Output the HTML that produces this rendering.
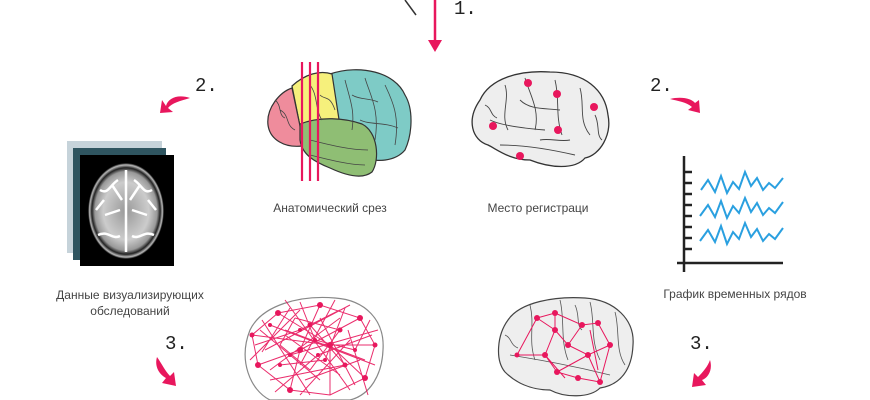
<!DOCTYPE html>
<html><head><meta charset="utf-8"><style>
html,body{margin:0;padding:0;background:#fff;width:870px;height:400px;overflow:hidden}
svg{display:block}
text{font-family:"Liberation Sans","Noto Sans CJK SC",sans-serif;fill:#444}
.m{font-family:"Liberation Mono",monospace;font-size:19px;fill:#222}
</style></head><body>
<svg width="870" height="400" viewBox="0 0 870 400" xmlns="http://www.w3.org/2000/svg">
<defs>
<radialGradient id="mri" cx="50%" cy="50%" r="50%">
<stop offset="0" stop-color="#999"/><stop offset="0.6" stop-color="#ccc"/><stop offset="0.82" stop-color="#999"/><stop offset="0.9" stop-color="#222"/><stop offset="0.96" stop-color="#bbb"/><stop offset="1" stop-color="#000"/>
</radialGradient>
</defs>
<line x1="405" y1="0" x2="416" y2="15" stroke="#333" stroke-width="1.5"/>
<text x="454" y="14" class="m">1.</text>
<line x1="435" y1="0" x2="435" y2="42" stroke="#e8175d" stroke-width="2.5"/>
<polygon points="428,40 442,40 435,52" fill="#e8175d"/>

<text x="195" y="91" class="m">2.</text>
<path d="M190,98 C178,94 168,98 166,106 L162,100 L160,113 L173,112 L168,108 C172,103 180,101 190,98Z" fill="#e8175d"/>
<rect x="67" y="141" width="95" height="112" fill="#c6d3da"/>
<rect x="73" y="148" width="93" height="112" fill="#2f5560"/>
<rect x="80" y="155" width="94" height="111" fill="#000"/>
<ellipse cx="126" cy="211" rx="38" ry="48" fill="url(#mri)"/>
<g stroke="#fff" stroke-width="2.5" fill="none">
<path d="M126,170 L126,252 M112,185 L122,200 M140,185 L130,200 M105,215 L120,210 M147,215 L132,210 M100,190 C108,195 110,185 118,180 M152,190 C144,195 142,185 134,180 M98,235 C108,230 112,240 120,236 M154,235 C144,230 140,240 132,236 M104,200 L96,210 M148,200 L156,210"/>
</g>
<text x="130" y="299" font-size="12" text-anchor="middle">Данные визуализирующих</text>
<text x="130" y="315" font-size="12" text-anchor="middle">обследований</text>
<text x="165" y="349" class="m">3.</text>
<path d="M157,357 C154,367 160,375 166,378 L162,383 L176,386 L174,372 L170,376 C165,371 162,364 157,357Z" fill="#e8175d"/>

<g stroke="#333" stroke-width="1.2">
<path d="M330,74 C360,64 395,72 405,95 C414,110 412,135 405,150 C395,162 375,162 368,158 L340,130 Z" fill="#7ecbc6"/>
<path d="M292,86 C305,74 320,70 332,74 L340,126 L300,126 Z" fill="#f6f07c"/>
<path d="M292,88 L300,126 L302,146 C285,148 270,140 268,125 C266,108 280,92 292,88Z" fill="#ef8c9c"/>
<path d="M300,124 C320,116 345,118 362,124 C378,132 380,160 372,172 C362,180 345,175 330,168 C315,162 302,155 300,140Z" fill="#8fbe74"/>
</g>
<g stroke="#444" stroke-width="0.8" fill="none">
<path d="M345,80 C350,100 355,110 352,130 M365,78 C370,95 380,110 375,140 M385,85 C392,100 400,115 395,145 M352,95 C360,100 370,98 378,102 M360,120 C370,125 385,122 398,128 M310,85 C318,95 315,110 322,120 M280,110 C290,115 285,125 295,130 M275,100 C282,105 278,115 285,118 M310,140 C330,145 350,150 368,150 M310,155 C330,160 350,165 365,165 M320,95 C325,100 330,95 335,110"/>
</g>
<g stroke="#e8175d" stroke-width="2.2"><line x1="302" y1="62" x2="302" y2="181"/><line x1="310" y1="62" x2="310" y2="181"/><line x1="318" y1="62" x2="318" y2="181"/></g>
<text x="330" y="212" font-size="12" text-anchor="middle">Анатомический срез</text>

<path d="M480,100 C490,78 520,70 550,72 C585,72 605,90 608,115 C612,135 600,155 585,158 C575,170 550,168 530,160 C510,160 498,150 488,145 C472,140 466,120 480,100Z" fill="#eee" stroke="#333" stroke-width="1.3"/>
<g stroke="#444" stroke-width="0.9" fill="none">
<path d="M505,85 C510,100 500,115 508,130 M525,78 C530,95 540,110 535,130 M555,80 C560,100 555,115 562,135 M580,88 C585,105 578,120 590,135 M490,120 C500,125 520,128 545,130 M500,145 C520,145 545,148 575,155 M520,100 C530,110 545,108 560,110 M485,105 C492,108 490,115 497,118 M595,115 C600,125 596,135 602,140 M540,140 C550,138 560,142 570,140"/>
</g>
<g fill="#e8175d"><circle cx="528" cy="83" r="4"/><circle cx="557" cy="94" r="4"/><circle cx="594" cy="107" r="4"/><circle cx="493" cy="126" r="4"/><circle cx="558" cy="130" r="4"/><circle cx="520" cy="156" r="4"/></g>
<text x="538" y="212" font-size="12" text-anchor="middle">Место регистраци</text>

<text x="650" y="91" class="m">2.</text>
<path d="M670,99 C682,96 692,99 695,103 L699,100 L700,113 L688,110 L692,107 C686,102 678,101 670,99Z" fill="#e8175d"/>
<g stroke="#222" stroke-width="2.5" fill="none">
<line x1="684" y1="156" x2="684" y2="272"/><line x1="677" y1="263" x2="783" y2="263"/>
<path d="M684,172h8M684,183h8M684,194h8M684,205h8M684,216h8M684,227h8M684,238h8M684,249h8"/>
</g>
<g stroke="#2aa0e0" stroke-width="2" fill="none">
<path d="M701,190 L708,180 L715,192 L721,176 L727,193 L733,182 L739,189 L745,172 L751,186 L757,178 L763,190 L769,183 L775,188 L783,178"/>
<path d="M700,216 L708,205 L715,217 L721,201 L727,218 L733,206 L739,213 L745,198 L751,212 L757,203 L763,215 L769,208 L775,213 L783,202"/>
<path d="M700,241 L708,230 L715,242 L721,226 L727,244 L733,232 L739,239 L745,223 L751,237 L757,229 L763,241 L769,234 L775,239 L783,228"/>
</g>
<text x="735" y="298" font-size="12" text-anchor="middle">График временных рядов</text>
<text x="690" y="349" class="m">3.</text>
<path d="M710,360 C713,370 708,378 702,380 L706,385 L692,387 L694,373 L698,377 C703,372 708,366 710,360Z" fill="#e8175d"/>

<path d="M250,330 C262,305 300,295 335,298 C365,300 385,320 383,350 C382,375 370,395 350,400 L270,400 C250,390 238,360 250,330Z" fill="#fff" stroke="#888" stroke-width="1.2"/>
<g stroke="#e8175d" stroke-width="1" fill="none" opacity="0.9">
<path d="M278,313 L320,305 L360,318 L375,345 L365,378 L330,395 L290,390 L258,365 L252,335 L278,313 M278,313 L330,345 L365,378 M320,305 L300,350 L290,390 M360,318 L300,350 L258,365 M252,335 L330,345 L375,345 M310,325 L345,365 L270,380 M295,318 L340,330 L310,370 L280,345 L295,318 M265,350 L350,305 M330,395 L330,345 M285,330 L365,360 M270,370 L340,318 M300,395 L350,340 M260,330 L320,380"/>
<path d="M300,302 L315,340 L355,350 L370,320 M290,308 L262,352 M345,308 L325,360 L280,365 M255,345 L300,330 L340,310 M305,380 L360,360 M275,392 L318,355 L372,335 M335,300 L300,365 M285,300 L350,390 M262,320 L310,395 M348,330 L368,395 M290,355 L378,330 M250,360 L300,310 M320,318 L355,385 M270,325 L375,365 M340,375 L285,335"/>
</g>
<g fill="#e8175d"><circle cx="278" cy="313" r="3"/><circle cx="320" cy="305" r="3"/><circle cx="360" cy="318" r="3"/><circle cx="300" cy="350" r="3"/><circle cx="330" cy="345" r="3"/><circle cx="258" cy="365" r="3"/><circle cx="290" cy="390" r="3"/><circle cx="365" cy="378" r="3"/><circle cx="310" cy="325" r="2.5"/><circle cx="345" cy="365" r="2.5"/><circle cx="252" cy="335" r="2.5"/><circle cx="340" cy="330" r="2.5"/><circle cx="375" cy="345" r="2.5"/><circle cx="315" cy="340" r="2"/><circle cx="355" cy="350" r="2"/><circle cx="325" cy="360" r="2"/><circle cx="280" cy="365" r="2"/><circle cx="300" cy="330" r="2"/><circle cx="318" cy="355" r="2"/><circle cx="290" cy="355" r="2"/><circle cx="270" cy="325" r="2"/></g>

<path d="M508,320 C520,302 555,296 585,298 C615,300 635,320 633,345 C632,370 620,385 600,388 C590,398 565,398 550,390 C530,390 515,382 505,372 C495,360 497,335 508,320Z" fill="#eee" stroke="#444" stroke-width="1.2"/>
<g stroke="#555" stroke-width="0.8" fill="none"><path d="M530,305 C535,325 528,340 535,360 M560,300 C565,320 560,340 568,360 M590,302 C595,320 590,340 600,360 M615,312 C620,330 615,350 625,365 M510,355 C540,360 570,365 610,375 M505,335 C512,338 510,345 518,348 M575,305 C580,315 576,325 582,330"/></g>
<g stroke="#e8175d" stroke-width="1" fill="none">
<path d="M537,318 L555,313 L582,325 L598,323 L610,345 L600,382 L578,378 L557,372 L545,355 L517,355 L537,318 M555,330 L568,345 L582,325 M555,313 L555,330 L545,355 M568,345 L588,355 L610,345 M588,355 L600,382 M557,372 L588,355 M537,318 L555,330 M590,330 L598,370 M545,355 L565,378"/>
</g>
<g fill="#e8175d"><circle cx="537" cy="318" r="3"/><circle cx="555" cy="313" r="3"/><circle cx="582" cy="325" r="3"/><circle cx="598" cy="323" r="3"/><circle cx="610" cy="345" r="3"/><circle cx="600" cy="382" r="3"/><circle cx="578" cy="378" r="3"/><circle cx="557" cy="372" r="3"/><circle cx="545" cy="355" r="3"/><circle cx="517" cy="355" r="2.5"/><circle cx="555" cy="330" r="3"/><circle cx="568" cy="345" r="3"/><circle cx="588" cy="355" r="3"/></g>
</svg>
</body></html>
